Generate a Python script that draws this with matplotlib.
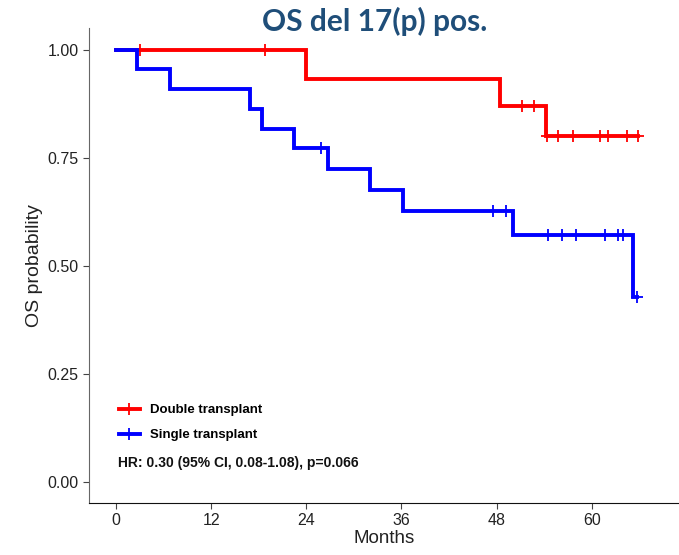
import matplotlib
matplotlib.use('Agg')
import matplotlib.pyplot as plt
from matplotlib.lines import Line2D

plt.rcParams['font.family'] = ['Liberation Sans', 'DejaVu Sans']

# Kaplan-Meier steps (months, survival) and censored times
double_times = [0, 24.0, 48.4, 54.2]
double_surv = [1.0, 0.933, 0.871, 0.80]
double_censor = [3.0, 18.8, 51.2, 52.7, 54.3, 55.7, 57.6, 61.0, 62.0, 64.4, 65.8]

single_times = [0, 2.7, 6.8, 16.9, 18.4, 22.4, 26.8, 32.0, 36.2, 50.1, 65.2]
single_surv = [1.0, 0.955, 0.909, 0.864, 0.818, 0.773, 0.724, 0.676, 0.628, 0.571, 0.428]
single_censor = [25.9, 47.5, 49.2, 54.5, 56.2, 58.0, 61.7, 63.3, 64.0, 65.7]

x_ticks = [0, 12, 24, 36, 48, 60]
y_ticks = [0.0, 0.25, 0.5, 0.75, 1.0]


def surv_at(times, surv, t):
    s = surv[0]
    for ti, si in zip(times, surv):
        if ti <= t:
            s = si
    return s


def km(ax, times, surv, censor, color):
    end = max(censor[-1], times[-1])
    xs = list(times) + [end]
    ys = list(surv) + [surv[-1]]
    ax.step(xs, ys, where='post', color=color, lw=2.8, solid_joinstyle='miter')
    cy = [surv_at(times, surv, c) for c in censor]
    ax.plot(censor, cy, ls='none', marker='+', ms=8, mew=1.3, color=color)


fig = plt.figure(figsize=(6.79, 5.55), dpi=100)
ax = fig.add_axes([0.131, 0.0937, 0.869, 0.856])

km(ax, double_times, double_surv, double_censor, '#ff0000')
km(ax, single_times, single_surv, single_censor, '#0000ff')

ax.set_xlim(-3.4, 71.0)
ax.set_ylim(-0.0486, 1.051)
ax.set_xticks(x_ticks)
ax.set_yticks(y_ticks)
ax.set_yticklabels(['%.2f' % v for v in y_ticks])
ax.tick_params(labelsize=11.5, length=4, color='#444444', labelcolor='#222222')
for s in ['top', 'right']:
    ax.spines[s].set_visible(False)
ax.spines['left'].set_color('#666666')
ax.spines['bottom'].set_color('#111111')

ax.set_xlabel('Months', fontsize=13.5, labelpad=1, color='#222222')
ax.set_ylabel('OS probability', fontsize=14, labelpad=3, color='#222222')

handles = [
    Line2D([], [], color='#ff0000', lw=2.8, marker='+', ms=8, mew=1.3),
    Line2D([], [], color='#0000ff', lw=2.8, marker='+', ms=8, mew=1.3),
]
ax.legend(handles, ['Double transplant', 'Single transplant'],
          loc='lower left', bbox_to_anchor=(0.03, 0.105), frameon=False,
          prop={'weight': 'bold', 'size': 9.5}, handlelength=1.6,
          handletextpad=0.8, labelspacing=0.95)

ax.text(0.049, 0.084, 'HR: 0.30 (95% CI, 0.08-1.08), p=0.066',
        transform=ax.transAxes, fontsize=10, fontweight='bold',
        va='center', ha='left', color='#111111')

fig.text(0.552, 0.962, 'OS del 17(p) pos.', fontsize=21.5, fontweight='bold',
         family=['Lato', 'DejaVu Sans'], color='#1f4e79', ha='center', va='center')

fig.savefig('out.png', dpi=100)
